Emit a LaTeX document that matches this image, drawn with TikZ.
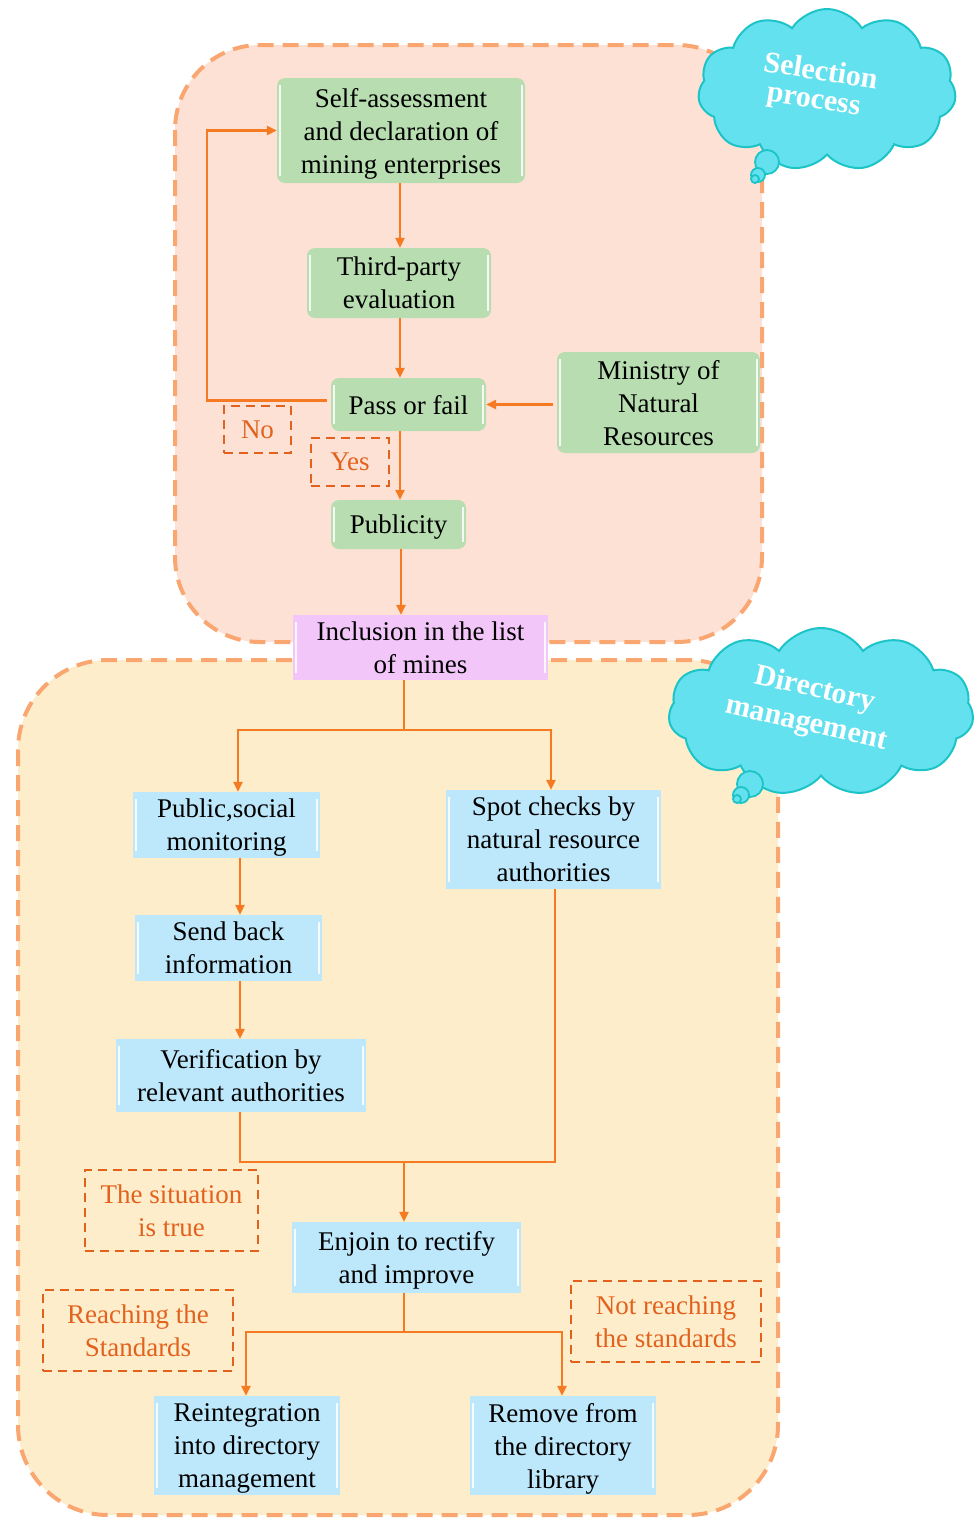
\documentclass[tikz,border=0pt]{standalone}
\usepackage{fontspec}
\setmainfont{Liberation Serif}
\usetikzlibrary{arrows.meta,shapes.symbols,calc}

\definecolor{regA}{HTML}{FDE1D5}
\definecolor{regB}{HTML}{FEEDCB}
\definecolor{regline}{HTML}{F9A670}
\definecolor{boxgreen}{HTML}{B7DDB0}
\definecolor{boxblue}{HTML}{BDE7FA}
\definecolor{boxviolet}{HTML}{F2C6F9}
\definecolor{flowc}{HTML}{F57A22}
\definecolor{lblc}{HTML}{E2621D}
\definecolor{cloudfill}{HTML}{64E1EF}
\definecolor{cloudline}{HTML}{1CC4C8}

\tikzset{
  x=1pt, y=-1pt,
  region/.style={draw=regline, line width=4pt, dash pattern=on 16pt off 9pt},
  bevel/.style={path picture={
      \draw[white, line width=2pt, opacity=.85]
        ([xshift=3pt,yshift=-7pt]path picture bounding box.north west) --
        ([xshift=3pt,yshift=7pt]path picture bounding box.south west);
      \draw[white, line width=2pt, opacity=.85]
        ([xshift=-3pt,yshift=-7pt]path picture bounding box.north east) --
        ([xshift=-3pt,yshift=7pt]path picture bounding box.south east);}},
  box/.style={font=\fontsize{27}{33}\selectfont, align=center, inner sep=0pt, anchor=center,
    text depth=0pt},
  gbox/.style={box, bevel, fill=boxgreen, rounded corners=8pt},
  bbox/.style={box, bevel, fill=boxblue},
  vbox/.style={box, bevel, fill=boxviolet},
  lbl/.style={box, draw=lblc, text=lblc, line width=2.5pt, dash pattern=on 9pt off 6pt},
  link/.style={draw=flowc, line width=2.5pt},
  flow/.style={link, -{Triangle[width=9pt,length=10pt]}},
  thought/.style={cloud, cloud puffs=11, cloud puff arc=115, fill=cloudfill, draw=cloudline, line width=2pt},
  bubble/.style={fill=cloudfill, draw=cloudline, line width=1.8pt},
  cloudtext/.style={text=white, font=\bfseries\fontsize{30}{32}\selectfont, inner sep=0pt},
}

\begin{document}
\begin{tikzpicture}
\useasboundingbox (0,0) rectangle (974,1519);

% two stages
\draw[region, fill=regA, rounded corners=85pt] (175,45) rectangle (762,642);
\draw[region, fill=regB, rounded corners=90pt] (18,660) rectangle (778,1515);

% selection stage
\node[gbox, minimum width=248pt, minimum height=105pt] (self) at (401,130.5)
  {Self-assessment\\and declaration of\\mining enterprises};
\node[gbox, minimum width=184pt, minimum height=70pt] (third) at (399,283)
  {Third-party\\evaluation};
\node[gbox, minimum width=155pt, minimum height=53pt] (pass) at (408.5,404.5)
  {Pass or fail};
\node[gbox, minimum width=203pt, minimum height=101pt] (ministry) at (658.5,402.5)
  {Ministry of\\Natural\\Resources};
\node[gbox, minimum width=135pt, minimum height=49pt] (publicity) at (398.5,524.5)
  {Publicity};
\node[lbl, minimum width=67pt, minimum height=47pt] (no) at (257.5,429.5) {No};
\node[lbl, minimum width=78pt, minimum height=48pt] (yes) at (350,462) {Yes};

\node[vbox, minimum width=255pt, minimum height=65pt] (incl) at (420.5,647.5)
  {Inclusion in the list\\of mines};

% directory stage
\node[bbox, minimum width=187pt, minimum height=66pt] (public) at (226.5,825)
  {Public,social\\monitoring};
\node[bbox, minimum width=215pt, minimum height=99pt] (spot) at (553.5,839.5)
  {Spot checks by\\natural resource\\authorities};
\node[bbox, minimum width=187pt, minimum height=66pt] (send) at (228.5,948)
  {Send back\\information};
\node[bbox, minimum width=250pt, minimum height=73pt] (verif) at (241,1075.5)
  {Verification by\\relevant authorities};
\node[bbox, minimum width=229pt, minimum height=71pt] (enjoin) at (406.5,1257.5)
  {Enjoin to rectify\\and improve};
\node[bbox, minimum width=186pt, minimum height=99pt] (reint) at (247,1445.5)
  {Reintegration\\into directory\\management};
\node[bbox, minimum width=186pt, minimum height=99pt] (remove) at (563,1445.5)
  {Remove from\\the directory\\library};
\node[lbl, minimum width=173pt, minimum height=81pt] (true) at (171.5,1210.5)
  {The situation\\is true};
\node[lbl, minimum width=190pt, minimum height=81pt] (reach) at (138,1330.5)
  {Reaching the\\Standards};
\node[lbl, minimum width=190pt, minimum height=81pt] (notreach) at (666,1321.5)
  {Not reaching\\the standards};

% junction points
\coordinate (colA) at (400,0);
\coordinate (s1) at (404,730);
\coordinate (s1l) at (238,730);
\coordinate (s1r) at (551,730);
\coordinate (colL) at (240,0);
\coordinate (m) at (404,1162);
\coordinate (s2) at (404,1332);
\coordinate (s2l) at (246,1332);
\coordinate (s2r) at (562,1332);

% selection connectors
\draw[flow] (colA |- self.south) -- (colA |- third.north);
\draw[flow] (colA |- third.south) -- (colA |- pass.north);
\draw[flow] (colA |- pass.south) -- (colA |- publicity.north);
\draw[flow] ([xshift=-4pt]ministry.west |- pass.east) -- (pass.east);
\draw[flow] ([xshift=-4pt,yshift=4pt]pass.west) -- ([xshift=-124pt,yshift=4pt]pass.west) |- (self.west);
\draw[flow] (publicity.south -| self.south) -- (self.south |- incl.north);

% directory connectors
\draw[link] (incl.south -| s1) -- (s1);
\draw[flow] (s1) -| (s1l |- public.north);
\draw[flow] (s1) -| (s1r |- spot.north);
\draw[flow] (colL |- public.south) -- (colL |- send.north);
\draw[flow] (colL |- send.south) -- (colL |- verif.north);
\draw[link] (colL |- verif.south) |- (m) -| ([xshift=1.5pt]spot.south);
\draw[flow] (m) -- (m |- enjoin.north);
\draw[link] (enjoin.south -| s2) -- (s2);
\draw[flow] (s2) -| (s2l |- reint.north);
\draw[flow] (s2) -| (s2r |- remove.north);

% stage clouds
\node[thought, minimum width=258pt, minimum height=162pt, aspect=1.6] (cloudA) at (827,90) {};
\draw[bubble] (767,162) circle (12pt);
\draw[bubble] (758,175) circle (7pt);
\draw[bubble] (755,179) circle (4pt);
\node[cloudtext, rotate=-9] (cloudA1) at (821,70) {Selection};
\node[cloudtext, rotate=-9] (cloudA2) at (813,104) {process};

\node[thought, minimum width=305pt, minimum height=168pt, aspect=1.8] (cloudB) at (821,712) {};
\draw[bubble] (750,784) circle (13pt);
\draw[bubble] (741,795) circle (8pt);
\draw[bubble] (737,799) circle (4pt);
\node[cloudtext, rotate=-13] (cloudB1) at (815,690) {Directory};
\node[cloudtext, rotate=-13] (cloudB2) at (806,726) {management};
\end{tikzpicture}
\end{document}
